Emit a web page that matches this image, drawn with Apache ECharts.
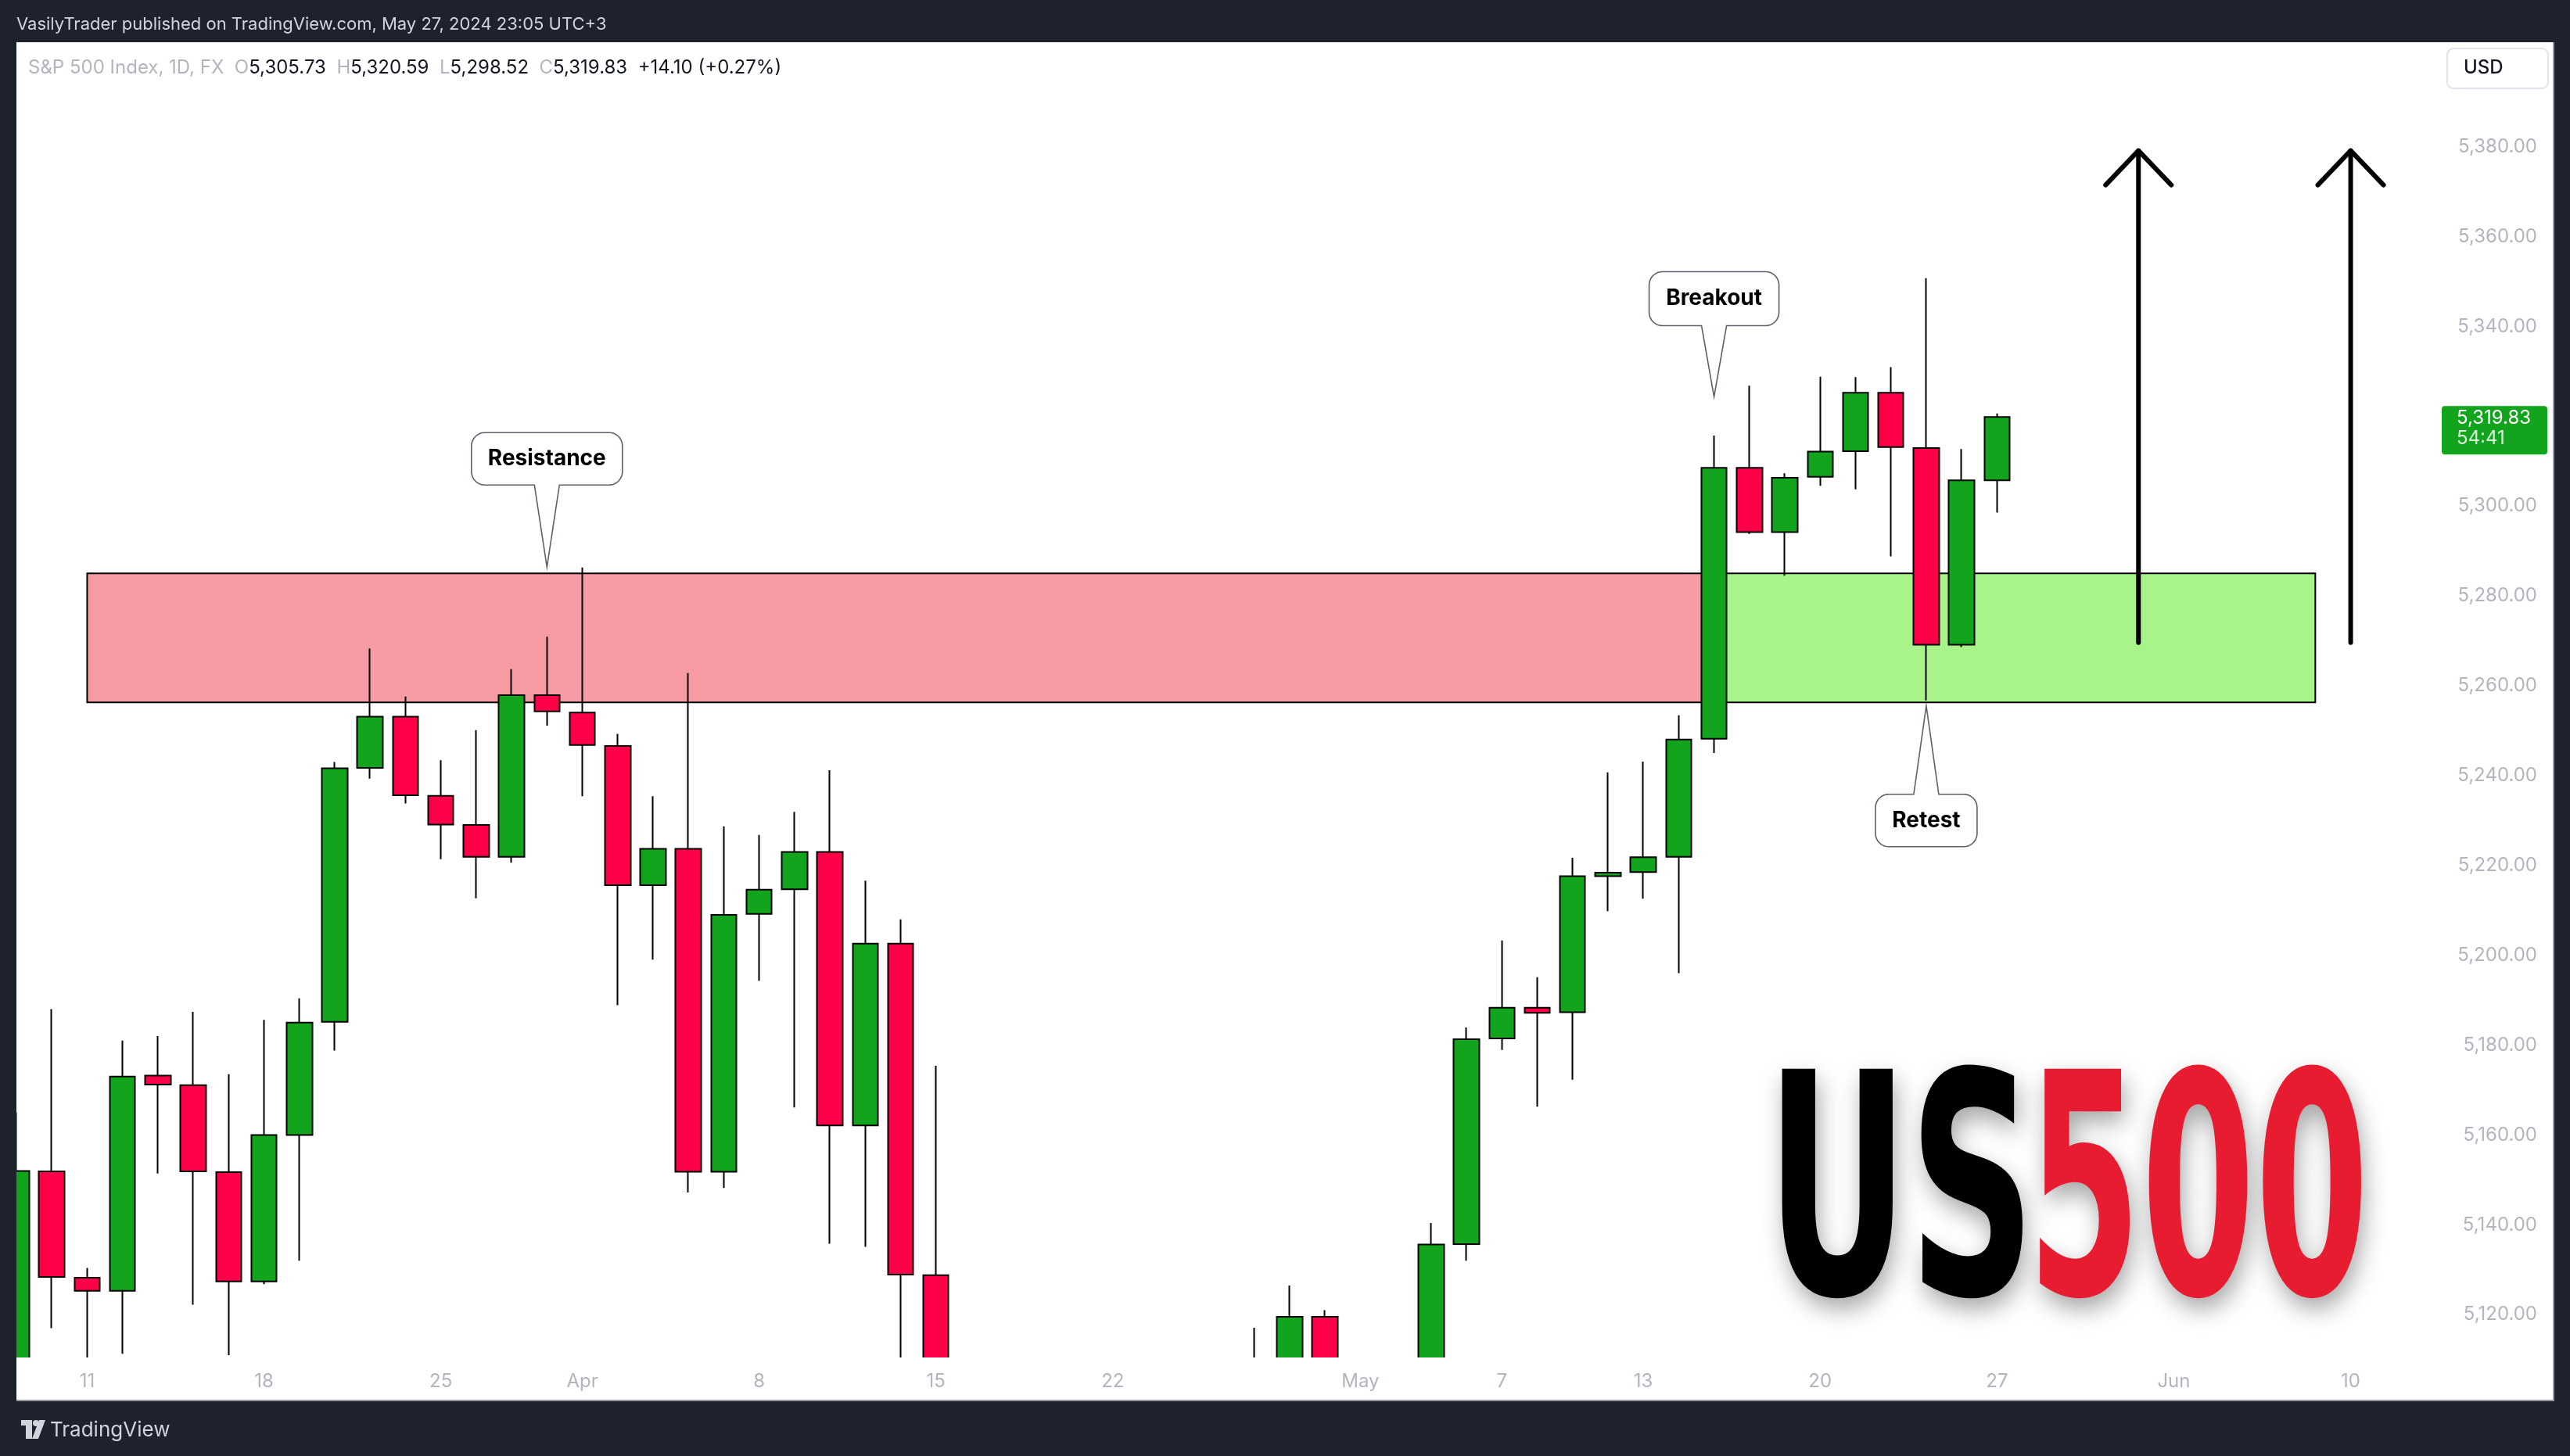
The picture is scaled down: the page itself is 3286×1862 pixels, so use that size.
<!DOCTYPE html>
<html><head><meta charset="utf-8">
<script src="https://cdn.jsdelivr.net/npm/echarts@6.0.0/dist/echarts.min.js"></script>
<style>html,body{margin:0;padding:0;background:#fff}#c{width:3286px;height:1862px}</style>
</head><body><div id="c"></div>
<script>
// ---- data ----
const dates = [
'2024-03-07','2024-03-08',
'2024-03-11','2024-03-12','2024-03-13','2024-03-14','2024-03-15',
'2024-03-18','2024-03-19','2024-03-20','2024-03-21','2024-03-22',
'2024-03-25','2024-03-26','2024-03-27','2024-03-28',
'2024-04-01','2024-04-02','2024-04-03','2024-04-04','2024-04-05',
'2024-04-08','2024-04-09','2024-04-10','2024-04-11','2024-04-12',
'2024-04-15','2024-04-16','2024-04-17','2024-04-18','2024-04-19',
'2024-04-22','2024-04-23','2024-04-24','2024-04-25','2024-04-26',
'2024-04-29','2024-04-30','2024-05-01','2024-05-02','2024-05-03',
'2024-05-06','2024-05-07','2024-05-08','2024-05-09','2024-05-10',
'2024-05-13','2024-05-14','2024-05-15','2024-05-16','2024-05-17',
'2024-05-20','2024-05-21','2024-05-22','2024-05-23','2024-05-24',
'2024-05-27','2024-05-28','2024-05-29','2024-05-30','2024-05-31',
'2024-06-03','2024-06-04','2024-06-05','2024-06-06','2024-06-07',
'2024-06-10','2024-06-11','2024-06-12'
];
const open = [5106, 5151.9, 5128.2, 5125.3, 5173.2, 5171.1, 5151.7, 5127.4, 5160.0, 5185.2,
  5241.7, 5253.1, 5235.5, 5229.0, 5221.9, 5257.9, 5254.0, 5246.6, 5215.6, 5223.7,
  5151.8, 5209.2, 5214.7, 5223.0, 5162.1, 5202.6, 5128.8, 5062, 5068, 5030,
  5005, 4988, 5028, 5084, 5020, 5085, 5100, 5119.5, 5030, 5050,
  5098, 5135.7, 5181.5, 5188.3, 5187.3, 5217.6, 5218.5, 5221.9, 5248.2, 5308.5,
  5294.2, 5306.5, 5312.2, 5325.2, 5312.9, 5269.1, 5305.73];
const high = [5165, 5188.0, 5130.4, 5181.0, 5182.0, 5187.4, 5173.5, 5185.6, 5190.4, 5243.0,
  5268.3, 5257.6, 5243.4, 5250.1, 5263.7, 5270.9, 5286.3, 5249.3, 5235.4, 5262.8,
  5228.7, 5226.8, 5231.9, 5241.2, 5216.6, 5208.0, 5175.4, 5079, 5077, 5046,
  5020, 5038, 5077, 5090, 5058, 5117.1, 5126.5, 5121.0, 5096, 5074,
  5140.4, 5183.9, 5203.3, 5195.1, 5221.7, 5240.7, 5243.1, 5253.4, 5315.7, 5326.8,
  5307.3, 5328.8, 5328.7, 5330.9, 5350.7, 5312.7, 5320.59];
const low = [5098, 5117.0, 5108, 5111.3, 5151.4, 5122.2, 5111.0, 5126.8, 5132.0, 5178.8,
  5239.3, 5233.8, 5221.4, 5212.7, 5220.6, 5251.1, 5235.4, 5188.9, 5199.0, 5147.2,
  5148.2, 5194.3, 5166.1, 5135.8, 5135.1, 5104, 5052, 5040, 5008, 5000,
  4954, 4970, 5027, 5048, 4991, 5074, 5092, 5036, 5013, 5012,
  5094, 5132.0, 5178.9, 5166.3, 5172.3, 5209.8, 5212.6, 5196.0, 5245.0, 5293.8,
  5284.5, 5304.5, 5303.7, 5288.8, 5256.7, 5268.6, 5298.52];
const close = [5152, 5128.4, 5125.3, 5173.0, 5171.2, 5151.9, 5127.4, 5160.0, 5185.0, 5241.6,
  5253.1, 5235.6, 5229.1, 5221.9, 5257.9, 5254.3, 5246.8, 5215.6, 5223.7, 5151.8,
  5209.0, 5214.6, 5223.0, 5162.1, 5202.6, 5128.9, 5062, 5052, 5023, 5012,
  4968, 5011, 5071, 5072, 5049, 5100, 5119.5, 5038, 5019, 5065,
  5135.6, 5181.3, 5188.3, 5187.2, 5217.6, 5218.4, 5221.8, 5248.0, 5308.5, 5294.2,
  5306.3, 5312.1, 5325.2, 5313.1, 5269.1, 5305.73, 5319.83];

const xTickLabels = {
  '2024-03-11':'11','2024-03-18':'18','2024-03-25':'25','2024-04-01':'Apr',
  '2024-04-08':'8','2024-04-15':'15','2024-04-22':'22','2024-05-01':'May',
  '2024-05-07':'7','2024-05-13':'13','2024-05-20':'20','2024-05-27':'27',
  '2024-06-03':'Jun','2024-06-10':'10'
};
const yTickValues = [5120,5140,5160,5180,5200,5220,5240,5260,5280,5300,5320,5340,5360,5380];

// zones: start date, end date, top price, bottom price
const zones = [
  ['2024-03-11','2024-05-15',5285,5256.3],
  ['2024-05-15','2024-06-07',5285,5256.3]
];
// callouts: date, tip price
const calloutDates = ['2024-03-28','2024-05-15','2024-05-23'];
const calloutPrices = [5286.4, 5324.3, 5255.5];
const calloutTexts = ['Resistance','Breakout','Retest'];
// arrows: date, from price, to price
const arrows = [['2024-05-31',5269.6,5379.1],['2024-06-10',5269.6,5379.1]];
const countdown = '54:41';

// ---- styles / layout ----
const zoneFill = ['#f69ba3','#a8f48a'];
const calloutLayout = [
  {side:'above', w:193, h:67, gap:105},
  {side:'above', w:166, h:69, gap:91},
  {side:'below', w:130, h:67, gap:113}
];
const FONT = 'Inter';
const fmt = v => v.toLocaleString('en-US',{minimumFractionDigits:2, maximumFractionDigits:2});

function arcPts(cx, cy, r, a0, a1, out){
  const n = 8;
  for (let i=0;i<=n;i++){
    const a = (a0 + (a1-a0)*i/n) * Math.PI/180;
    out.push([cx + r*Math.cos(a), cy + r*Math.sin(a)]);
  }
}
function calloutPoly(tipX, tipY, lay){
  const r = 17, hb = 16;
  const cx = tipX, L = cx - lay.w/2, R = cx + lay.w/2;
  let T, B;
  if (lay.side === 'above'){ B = tipY - lay.gap; T = B - lay.h; }
  else { T = tipY + lay.gap; B = T + lay.h; }
  const pts = [];
  arcPts(L+r, T+r, r, 180, 270, pts);
  if (lay.side === 'below'){ pts.push([cx-hb, T],[tipX, tipY],[cx+hb, T]); }
  arcPts(R-r, T+r, r, 270, 360, pts);
  arcPts(R-r, B-r, r, 0, 90, pts);
  if (lay.side === 'above'){ pts.push([cx+hb, B],[tipX, tipY],[cx-hb, B]); }
  arcPts(L+r, B-r, r, 90, 180, pts);
  return {pts, cx, cy:(T+B)/2};
}

const n = close.length - 1;
const chg = close[n] - close[n-1];
const pct = chg / close[n-1] * 100;
const sign = v => (v >= 0 ? '+' : '');
const headerText = `{g|S&P 500 Index, 1D, FX}  {g|O}{k|${fmt(open[n])}}  {g|H}{k|${fmt(high[n])}}  {g|L}{k|${fmt(low[n])}}  {g|C}{k|${fmt(close[n])}}  {k|${sign(chg)}${chg.toFixed(2)} (${sign(pct)}${pct.toFixed(2)}%)}`;

const chart = echarts.init(document.getElementById('c'), null, {renderer:'canvas'});
const dark = '#1e222d';
const shadow = {textShadowBlur:30, textShadowColor:'rgba(0,0,0,0.35)', textShadowOffsetY:14, textShadowOffsetX:4,
  shadowBlur:30, shadowColor:'rgba(0,0,0,0.35)', shadowOffsetY:14, shadowOffsetX:4};

const option = {
  animation: false,
  backgroundColor: '#ffffff',
  grid: {left: 21, right: 190, top: 55, bottom: 127},
  xAxis: {
    type: 'category', data: dates, boundaryGap: false, z: 200,
    axisLine: {show:false}, axisTick: {show:false}, splitLine: {show:false},
    axisLabel: {
      interval: (i, v) => Object.prototype.hasOwnProperty.call(xTickLabels, v),
      formatter: v => xTickLabels[v] || '',
      color: '#b2b5be', fontSize: 24, fontFamily: FONT, margin: 20
    }
  },
  yAxis: {
    type: 'value', position: 'right', min: 5110.64, max: 5403.06, scale: true,
    axisLine: {show:false}, axisTick: {show:false}, splitLine: {show:false},
    axisLabel: {
      customValues: yTickValues,
      formatter: v => fmt(v),
      color: '#b2b5be', fontSize: 24, fontFamily: FONT, align: 'right', margin: 148
    }
  },
  series: [
    {
      type: 'custom', name: 'zones', z: 1, clip: false,
      data: zones, encode: {x:[0,1], y:[2,3]},
      renderItem(params, api){
        const a = api.coord([api.value(0), api.value(2)]);
        const b = api.coord([api.value(1), api.value(3)]);
        return {type:'rect', shape:{x:a[0], y:a[1], width:b[0]-a[0], height:b[1]-a[1]},
          style:{fill: zoneFill[params.dataIndex], stroke:'#000', lineWidth:2}};
      }
    },
    {
      type: 'candlestick', name: 'US500', z: 3, clip: true, barWidth: 33,
      data: open.map((o,i) => [o, close[i], low[i], high[i]]),
      itemStyle: {color:'#12a41c', color0:'#ff0048', borderColor:'#000', borderColor0:'#000', borderWidth:2},
      emphasis: {disabled: true}
    },
    {
      type: 'custom', name: 'arrows', z: 5, clip: false,
      data: arrows, encode: {x:0, y:[1,2]},
      renderItem(params, api){
        const b = api.coord([api.value(0), api.value(1)]);
        const t = api.coord([api.value(0), api.value(2)]);
        const st = {stroke:'#000', lineWidth:6, lineCap:'round', lineJoin:'round', fill:null};
        return {type:'group', children:[
          {type:'polyline', shape:{points:[[b[0], b[1]],[t[0], t[1]]]}, style:st},
          {type:'polyline', shape:{points:[[t[0]-42, t[1]+44],[t[0], t[1]],[t[0]+42, t[1]+44]]}, style:st}
        ]};
      }
    },
    {
      type: 'custom', name: 'callouts', z: 6, clip: false,
      data: calloutDates.map((d,i) => [d, calloutPrices[i]]), encode: {x:0, y:1},
      renderItem(params, api){
        const p = api.coord([api.value(0), api.value(1)]);
        const c = calloutPoly(p[0], p[1], calloutLayout[params.dataIndex]);
        return {type:'group', children:[
          {type:'polygon', shape:{points:c.pts}, style:{fill:'#fff', stroke:'#5d606b', lineWidth:1.6}},
          {type:'text', style:{text: calloutTexts[params.dataIndex], x:c.cx, y:c.cy,
            align:'center', verticalAlign:'middle', textAlign:'center', textVerticalAlign:'middle',
            font:'bold 28px ' + FONT, fill:'#000'}}
        ]};
      }
    },
    {
      type: 'custom', name: 'lastPrice', z: 6, clip: false,
      data: [[dates[n], close[n]]], encode: {x:0, y:1},
      renderItem(params, api){
        const y = api.coord([api.value(0), api.value(1)])[1];
        return {type:'group', children:[
          {type:'rect', shape:{x:3122, y:y-14, width:135, height:62, r:4}, style:{fill:'#12a41c'}},
          {type:'text', style:{text: fmt(api.value(1)), x:3141, y:y+2, align:'left', verticalAlign:'middle',
            textAlign:'left', textVerticalAlign:'middle', font:'24px ' + FONT, fill:'#fff'}},
          {type:'text', style:{text: countdown, x:3141, y:y+28, align:'left', verticalAlign:'middle',
            textAlign:'left', textVerticalAlign:'middle', font:'24px ' + FONT, fill:'rgba(255,255,255,0.85)'}}
        ]};
      }
    }
  ],
  graphic: [
    // white cover for the time-axis strip (clips candles at the pane bottom)
    {type:'rect', z:100, shape:{x:21, y:1736, width:3245, height:56}, style:{fill:'#ffffff'}},
    {type:'rect', z:100, shape:{x:0, y:0, width:3286, height:54}, style:{fill:dark}},
    {type:'rect', z:100, shape:{x:0, y:0, width:21, height:1862}, style:{fill:dark}},
    {type:'rect', z:100, shape:{x:3266, y:0, width:20, height:1862}, style:{fill:dark}},
    {type:'rect', z:100, shape:{x:0, y:1792, width:3286, height:70}, style:{fill:dark}},
    {type:'line', z:100, shape:{x1:21, y1:1791, x2:3266, y2:1791}, style:{stroke:'#9598a1', lineWidth:2}},
    {type:'line', z:100, shape:{x1:3265, y1:54, x2:3265, y2:1792}, style:{stroke:'#9598a1', lineWidth:2}},
    {type:'text', z:101, x:21, y:31, style:{text:'VasilyTrader published on TradingView.com, May 27, 2024 23:05 UTC+3',
      fill:'#d1d4dc', font:'22px ' + FONT, verticalAlign:'middle', textVerticalAlign:'middle'}},
    {type:'text', z:101, x:36, y:87, style:{text: headerText, font:'24px ' + FONT, fill:'#131722',
      verticalAlign:'middle', textVerticalAlign:'middle',
      rich:{g:{fill:'#b2b5be', fontSize:24, fontFamily:FONT}, k:{fill:'#131722', fontSize:24, fontFamily:FONT}}}},
    {type:'rect', z:101, shape:{x:3129, y:62, width:129, height:51, r:8}, style:{fill:'#fff', stroke:'#e0e3eb', lineWidth:2}},
    {type:'text', z:102, x:3150, y:87, style:{text:'USD', font:'500 24px ' + FONT, fill:'#131722',
      verticalAlign:'middle', textVerticalAlign:'middle'}},
    // US500 logo text
    {type:'text', z:50, x:2258, y:1552, scaleX:0.569, scaleY:1,
      style:Object.assign({text:'US', font:'bold 395px "DejaVu Sans"', fill:'#000',
        align:'left', textAlign:'left', verticalAlign:'middle', textVerticalAlign:'middle'}, shadow)},
    {type:'text', z:50, x:3029, y:1552, scaleX:0.53, scaleY:1,
      style:Object.assign({text:'500', font:'bold 395px "DejaVu Sans"', fill:'#e81c30',
        align:'right', textAlign:'right', verticalAlign:'middle', textVerticalAlign:'middle'}, shadow)},
    // footer logo
    {type:'rect', z:101, shape:{x:27, y:1816, width:14, height:7}, style:{fill:'#d1d4dc'}},
    {type:'rect', z:101, shape:{x:33, y:1816, width:8, height:24}, style:{fill:'#d1d4dc'}},
    {type:'circle', z:101, shape:{cx:46, cy:1820, r:4}, style:{fill:'#d1d4dc'}},
    {type:'polygon', z:101, shape:{points:[[50,1816],[58,1816],[49,1840],[41,1840]]}, style:{fill:'#d1d4dc'}},
    {type:'text', z:101, x:64, y:1829, style:{text:'TradingView', font:'26px ' + FONT, fill:'#d1d4dc',
      verticalAlign:'middle', textVerticalAlign:'middle'}}
  ]
};
chart.setOption(option);
</script>
</body></html>
